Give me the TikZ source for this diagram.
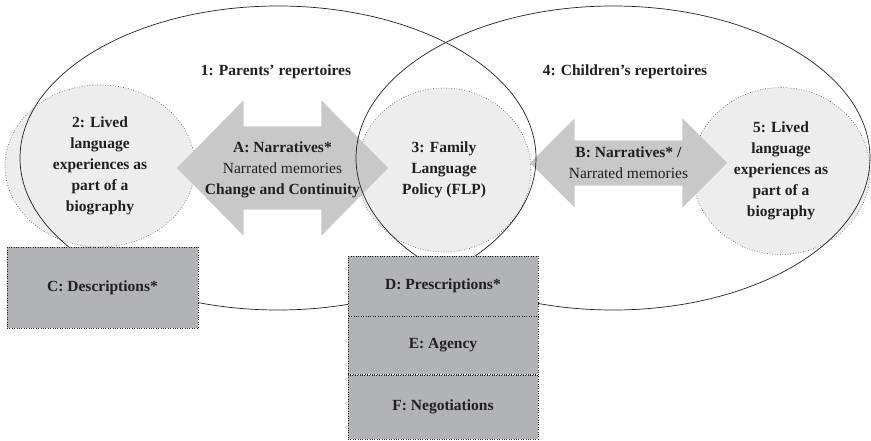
\documentclass[tikz,border=0pt]{standalone}
\usepackage{fontspec}
\setmainfont{Liberation Serif}
\usepackage{xcolor}
\usepackage{tikz}
\usetikzlibrary{shapes.geometric,shapes.arrows,positioning}
\definecolor{circgray}{HTML}{EDEDED}
\definecolor{arrowgray}{HTML}{C8C8C8}
\definecolor{boxgray}{HTML}{B2B3B7}
\definecolor{inkgray}{HTML}{231F20}
\newcommand\diagfont{\fontsize{15.5}{21}\selectfont}
\tikzset{
  repring/.style={draw=inkgray, ellipse, inner sep=0pt, line width=0.7pt},
  livedcirc/.style={draw=inkgray!85, dotted, fill=circgray, ellipse, inner sep=0pt, line width=0.6pt, align=center, text=inkgray, font=\diagfont\bfseries},
  narrarrow/.style={double arrow, fill=arrowgray, inner xsep=0pt},
  codebox/.style={draw=inkgray, dotted, fill=boxgray, minimum width=190pt, inner sep=0pt, text=inkgray, font=\diagfont\bfseries},
  replabel/.style={align=center, text=inkgray, font=\diagfont\bfseries},
  arrowtext/.style={align=center, text=inkgray, font=\diagfont},
}

\begin{document}
\begin{tikzpicture}[x=1pt, y=-1pt]
  \useasboundingbox (0,0) rectangle (871,441);

  % Lived experiences
  \node[livedcirc, minimum width=190pt, minimum height=162pt] (lived2) at (100,166) {2: Lived\\language\\experiences as\\part of a\\biography};
  \node[livedcirc, minimum width=174pt, minimum height=164pt] (flp3) at (444,170) {3: Family\\Language\\Policy (FLP)};
  \node[livedcirc, minimum width=178pt, minimum height=167pt] (lived5) at (781,171) {5: Lived\\language\\experiences as\\part of a\\biography};

  % Narrative arrows
  \node[narrarrow, inner ysep=41.5pt, minimum height=211pt, minimum width=135pt, double arrow head extend=26pt, double arrow tip angle=91] (narrA) at (282.5,168) {};
  \node[narrarrow, inner ysep=22.5pt, minimum height=197pt, minimum width=89pt, double arrow head extend=22pt, double arrow tip angle=90] (narrB) at (628.5,163) {};
  \node[arrowtext] (textA) at ([yshift=-2pt]narrA.center) {\textbf{A: Narratives*}\\Narrated memories\\\textbf{Change and Continuity}};
  \node[arrowtext] (textB) at (narrB) {\textbf{B: Narratives* /}\\Narrated memories};

  % Repertoires
  \node[repring, minimum width=516pt, minimum height=304pt] (parents) at (278,158) {};
  \node[repring, minimum width=514pt, minimum height=304pt] (children) at (613,158) {};
  \node[replabel] (plabel) at (276,72) {1: Parents’ repertoires};
  \node[replabel] (clabel) at (625,72) {4: Children’s repertoires};

  % Codes
  \node[codebox, minimum width=191pt, minimum height=81pt] (desc) at (102.5,287.5) {C: Descriptions*};
  \node[codebox, minimum height=60pt] (presc) at (443,286) {D: Prescriptions*};
  \node[codebox, minimum height=58pt, below=0pt of presc] (agency) {E: Agency};
  \node[codebox, minimum height=64pt, below=0pt of agency] (negot) {F: Negotiations};
\end{tikzpicture}
\end{document}
